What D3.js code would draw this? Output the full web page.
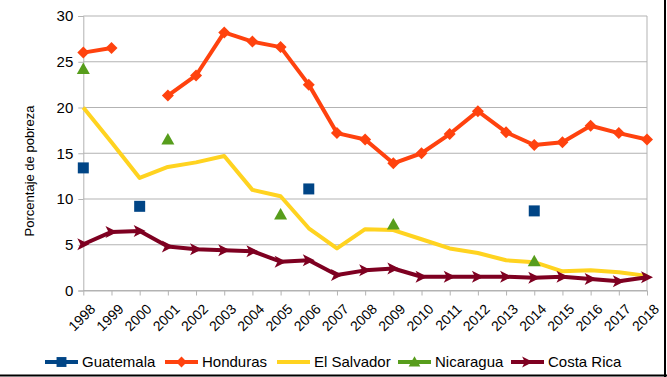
<!DOCTYPE html>
<html><head><meta charset="utf-8">
<script src="https://cdn.jsdelivr.net/npm/d3@7"></script>
<style>body{margin:0;background:#fff}svg{display:block;font-family:"Liberation Sans",Arial,sans-serif}</style>
</head><body>
<svg id="c" width="667" height="377"></svg>
<script>
const years = [1998,1999,2000,2001,2002,2003,2004,2005,2006,2007,2008,2009,2010,2011,2012,2013,2014,2015,2016,2017,2018];
const guatemala = [13.4,null,9.2,null,null,null,null,null,11.1,null,null,null,null,null,null,null,8.7,null,null,null,null];
const honduras = [26.0,26.5,null,21.3,23.5,28.2,27.2,26.6,22.5,17.2,16.5,13.9,15.0,17.1,19.6,17.3,15.9,16.2,18.0,17.2,16.5];
const elSalvador = [20.0,16.2,12.3,13.5,14.0,14.7,11.0,10.3,6.8,4.6,6.7,6.6,5.6,4.6,4.1,3.3,3.1,2.1,2.2,2.0,1.6];
const nicaragua = [24.2,null,null,16.5,null,null,null,8.3,null,null,null,7.2,null,null,null,null,3.2,null,null,null,null];
const costaRica = [5.05,6.4,6.5,4.8,4.5,4.4,4.3,3.15,3.3,1.7,2.2,2.4,1.5,1.5,1.5,1.5,1.4,1.5,1.25,1.0,1.45];
const yTicks = [0,5,10,15,20,25,30];

const series = [
  {name:"Guatemala", values:guatemala, color:"#004586", marker:"square", line:false},
  {name:"Honduras", values:honduras, color:"#FF420E", marker:"diamond", line:true},
  {name:"El Salvador", values:elSalvador, color:"#FFD320", marker:"none", line:true},
  {name:"Nicaragua", values:nicaragua, color:"#579D1C", marker:"triangle", line:false},
  {name:"Costa Rica", values:costaRica, color:"#7E0021", marker:"arrow", line:true}
];

const svg = d3.select("#c");
const x = d3.scalePoint().domain(years).range([83.3, 647]);
const y = d3.scaleLinear().domain([0,30]).range([290.5, 16]);

// grid
svg.append("g").selectAll("line").data(yTicks).join("line")
  .attr("x1",83.3).attr("x2",647).attr("y1",d=>y(d)).attr("y2",d=>y(d))
  .attr("stroke","#b3b3b3").attr("stroke-width",1);
svg.append("line").attr("x1",647).attr("x2",647).attr("y1",y(30)).attr("y2",y(0)).attr("stroke","#b3b3b3");

// y axis
const ya = svg.append("g").attr("transform","translate(83.3,0)")
  .call(d3.axisLeft(y).tickValues(yTicks).tickSize(5).tickPadding(5));
ya.select(".domain").attr("stroke","#b3b3b3");
ya.selectAll(".tick line").attr("stroke","#b3b3b3");
ya.selectAll("text").attr("font-size",15).attr("fill","#000").attr("font-family","Liberation Sans, Arial, sans-serif");

// x axis
const xa = svg.append("g").attr("transform","translate(0,290.5)")
  .call(d3.axisBottom(x).tickSize(5).tickSizeOuter(0).tickPadding(2));
xa.select(".domain").attr("stroke","#b3b3b3");
xa.selectAll(".tick line").attr("stroke","#b3b3b3");
xa.selectAll("text").attr("font-size",14).attr("fill","#000")
  .attr("font-family","Liberation Sans, Arial, sans-serif")
  .attr("text-anchor","end").attr("dy","0.35em")
  .attr("transform","translate(4,11) rotate(-45)");

// y label
svg.append("text").attr("transform","translate(34,171) rotate(-90)")
  .attr("text-anchor","middle").attr("font-size",13).text("Porcentaje de pobreza");

function markerPath(type){
  if(type==="square") return "M-5.5,-5.5H5.5V5.5H-5.5Z";
  if(type==="diamond") return "M0,-6L6,0L0,6L-6,0Z";
  if(type==="triangle") return "M0,-6.5L6.5,5L-6.5,5Z";
  if(type==="arrow") return "M-6,-6L6,0L-6,6L-3,0Z";
  return null;
}

const line = d3.line().defined(d=>d.v!=null).x(d=>x(d.year)).y(d=>y(d.v));
series.forEach(s=>{
  const pts = years.map((yr,i)=>({year:yr, v:s.values[i]}));
  if(s.line){
    svg.append("path").datum(pts).attr("d",line).attr("fill","none")
      .attr("stroke",s.color).attr("stroke-width",4).attr("stroke-linejoin","round");
  }
  const mp = markerPath(s.marker);
  if(mp){
    svg.append("g").selectAll("path").data(pts.filter(d=>d.v!=null)).join("path")
      .attr("d",mp).attr("fill",s.color)
      .attr("transform",d=>`translate(${x(d.year)},${y(d.v)})`);
  }
});

// legend
const legX = [45, 165, 277, 398, 511];
const lg = svg.append("g");
series.forEach((s,i)=>{
  const g = lg.append("g").attr("transform",`translate(${legX[i]},362)`);
  g.append("line").attr("x1",0).attr("x2",33).attr("y1",0).attr("y2",0)
    .attr("stroke",s.color).attr("stroke-width",4);
  const mp = markerPath(s.marker);
  if(mp) g.append("path").attr("d",mp).attr("fill",s.color).attr("transform","translate(16.5,0) scale(0.9)");
  g.append("text").attr("x",37).attr("y",0).attr("dy","0.35em").attr("font-size",15).text(s.name);
});

// frame lines (right & bottom)
svg.append("line").attr("x1",665).attr("x2",665).attr("y1",0).attr("y2",377).attr("stroke","#000").attr("stroke-width",2);
svg.append("line").attr("x1",0).attr("x2",667).attr("y1",375.5).attr("y2",375.5).attr("stroke","#000").attr("stroke-width",2);
</script>
</body></html>
